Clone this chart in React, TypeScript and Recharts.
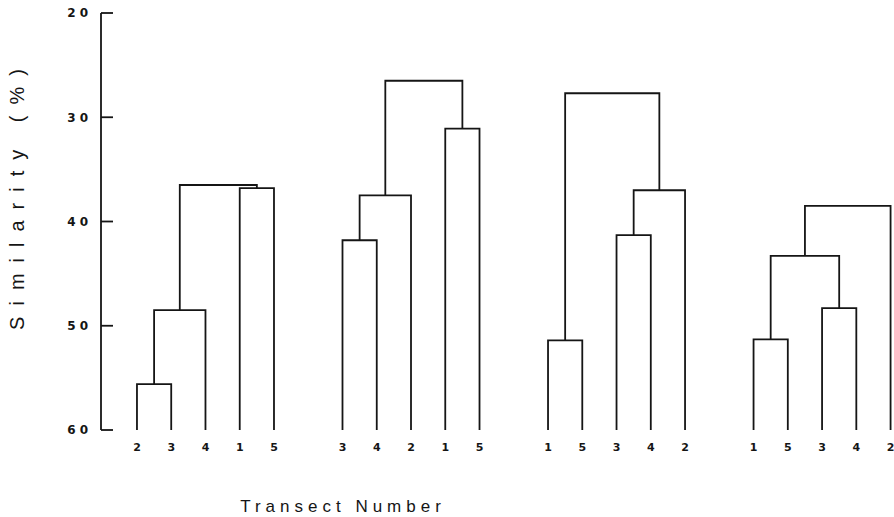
import React from "react";
import {
  ComposedChart,
  Scatter,
  XAxis,
  YAxis,
  ReferenceLine,
} from "recharts";

// ---- Data ----
const yTicks = [20, 30, 40, 50, 60];
const baseline = 60;
const groupOffsets = [0, 6, 12, 18];

// leaves (transect numbers) for each dendrogram, left to right
const leavesA = ["2", "3", "4", "1", "5"];
const leavesB = ["3", "4", "2", "1", "5"];
const leavesC = ["1", "5", "3", "4", "2"];
const leavesD = ["1", "5", "3", "4", "2"];

// merges: [leftNode, rightNode, similarity]; nodes 0-4 = leaves, 5+ = merges in order
const mergesA: [number, number, number][] = [
  [0, 1, 55.6],
  [5, 2, 48.5],
  [3, 4, 36.8],
  [6, 7, 36.5],
];
const mergesB: [number, number, number][] = [
  [0, 1, 41.8],
  [5, 2, 37.5],
  [3, 4, 31.1],
  [6, 7, 26.5],
];
const mergesC: [number, number, number][] = [
  [0, 1, 51.4],
  [2, 3, 41.3],
  [6, 4, 37.0],
  [5, 7, 27.7],
];
const mergesD: [number, number, number][] = [
  [0, 1, 51.3],
  [2, 3, 48.3],
  [5, 6, 43.3],
  [7, 4, 38.5],
];

const groups = [
  { leaves: leavesA, merges: mergesA },
  { leaves: leavesB, merges: mergesB },
  { leaves: leavesC, merges: mergesC },
  { leaves: leavesD, merges: mergesD },
];

// ---- Build segments ----
type Pt = { x: number; y: number };
const segments: Pt[][] = [];
const leafPositions: number[] = [];
const leafLabelAt: Record<number, string> = {};

groups.forEach((g, gi) => {
  const off = groupOffsets[gi];
  const nodeX: number[] = [];
  const nodeY: number[] = [];
  g.leaves.forEach((lab, i) => {
    nodeX.push(off + i);
    nodeY.push(baseline);
    leafPositions.push(off + i);
    leafLabelAt[off + i] = lab;
  });
  g.merges.forEach(([l, r, h]) => {
    segments.push([
      { x: nodeX[l], y: nodeY[l] },
      { x: nodeX[l], y: h },
      { x: nodeX[r], y: h },
      { x: nodeX[r], y: nodeY[r] },
    ]);
    nodeX.push((nodeX[l] + nodeX[r]) / 2);
    nodeY.push(h);
  });
});

const xDomain: [number, number] = [-1.05, 22.1];
const INK = "#151515";
const SW = 1.8;

const EmptyShape = () => <g />;

export default function App() {
  return (
    <div style={{ position: "absolute", left: 0, top: 0, background: "#fff" }}>
      <ComposedChart
        width={894}
        height={517}
        margin={{ top: 13, right: 0, bottom: 0, left: 0 }}
      >
        <XAxis
          type="number"
          dataKey="x"
          domain={xDomain}
          allowDataOverflow
          ticks={leafPositions}
          interval={0}
          tickFormatter={(v: number) => leafLabelAt[v] ?? ""}
          axisLine={false}
          tickLine={false}
          tickSize={6}
          tickMargin={7}
          height={87}
          tick={{
            fill: INK,
            fontSize: 11,
            fontWeight: 700,
            fontFamily: "DejaVu Sans",
          }}
          label={{
            content: (props: any) => {
              const vb = props.viewBox || { x: 0, y: 0 };
              return (
                <text
                  x={vb.x + 242}
                  y={vb.y + 82}
                  textAnchor="middle"
                  fill={INK}
                  style={{
                    fontFamily: "Liberation Sans",
                    fontSize: 17,
                    letterSpacing: 5,
                  }}
                >
                  Transect Number
                </text>
              );
            },
          }}
        />
        <YAxis
          type="number"
          dataKey="y"
          domain={[20, 60]}
          reversed
          ticks={yTicks}
          interval={0}
          width={101}
          axisLine={{ stroke: INK, strokeWidth: SW }}
          tickLine={false}
          tickSize={6}
          tickMargin={3}
          tick={{
            fill: INK,
            fontSize: 12,
            fontWeight: 700,
            fontFamily: "DejaVu Sans",
            letterSpacing: 4,
          }}
          label={{
            content: (props: any) => {
              const vb = props.viewBox || { x: 0, y: 0 };
              const cx = vb.x + 17;
              const cy = vb.y + 181;
              return (
                <text
                  x={cx}
                  y={cy}
                  transform={`rotate(-90, ${cx}, ${cy})`}
                  textAnchor="middle"
                  dominantBaseline="central"
                  fill={INK}
                  style={{
                    fontFamily: "Liberation Sans",
                    fontSize: 20,
                    letterSpacing: 11,
                  }}
                >
                  Similarity (%)
                </text>
              );
            },
          }}
        />
        {yTicks.map((t) => (
          <ReferenceLine
            key={`tk${t}`}
            segment={[
              { x: xDomain[0], y: t },
              { x: xDomain[0] + 0.35, y: t },
            ]}
            stroke={INK}
            strokeWidth={SW}
            ifOverflow="visible"
          />
        ))}
        {segments.map((seg, i) => (
          <Scatter
            key={`s${i}`}
            data={seg}
            dataKey="y"
            line={{ stroke: INK, strokeWidth: SW }}
            lineType="joint"
            shape={EmptyShape}
            isAnimationActive={false}
          />
        ))}
      </ComposedChart>
    </div>
  );
}
